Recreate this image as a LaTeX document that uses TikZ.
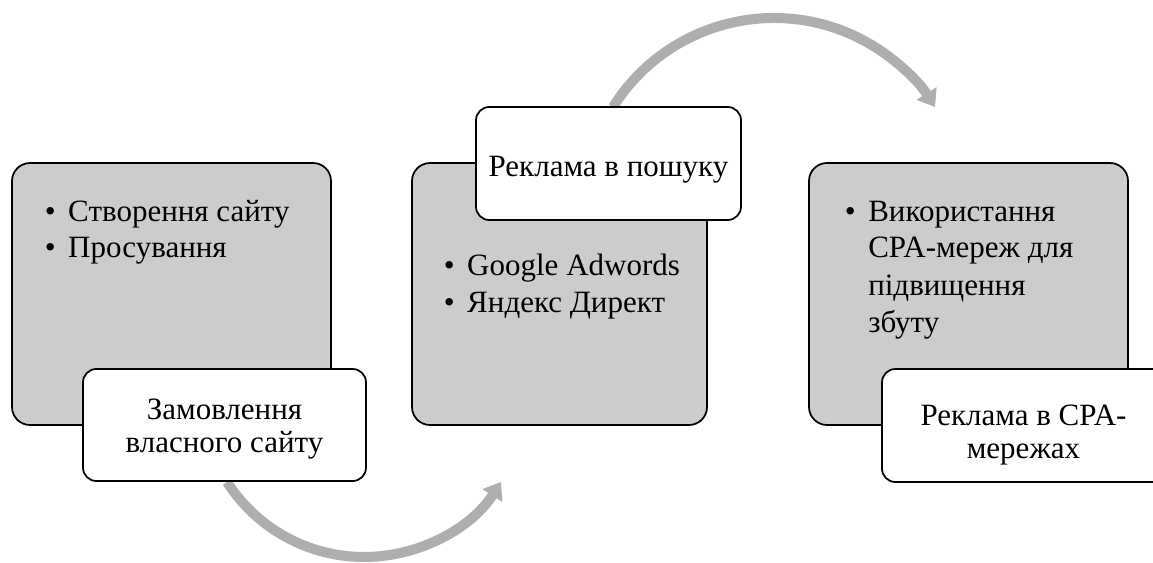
\documentclass[tikz,border=0pt]{standalone}
\usepackage{fontspec}
\setmainfont{Liberation Serif}
\usetikzlibrary{arrows.meta}

% one screen pixel of the layout grid
\newlength\px
\setlength\px{0.75pt}

\definecolor{panelfill}{RGB}{204,204,204}
\definecolor{flowgray}{RGB}{174,174,174}

% text settings
\newcommand\listfont{\fontsize{23.25pt}{27.75pt}\selectfont}
\newcommand\tagfont{\fontsize{23.25pt}{24.75pt}\selectfont}
\newcommand\bulletmark{\makebox[23.4\px][l]{•}}

\begin{document}
\begin{tikzpicture}[x=0.75pt, y=-0.75pt,
  panel/.style={draw=black, line width=1.3pt, fill=panelfill,
                rounded corners=13.5pt, inner sep=0pt},
  tagbox/.style={draw=black, line width=1.3pt, fill=white,
                 rounded corners=10pt, inner sep=0pt},
  flow/.style={draw=flowgray, line width=7.5pt,
               -{Triangle[length=12pt,width=17pt]}},
  bodytext/.style={anchor=base west, inner sep=0pt},
  tagtext/.style={anchor=base, inner sep=0pt}]

\useasboundingbox (0,0) rectangle (1153,563);

% curved flow arrows (drawn first, the boxes cover their tails)
\coordinate (c1) at (364,394.4);
\coordinate (c2) at (774,208.1);
\draw[flow] (c1) ++(147.4:162.6) arc[start angle=147.4, end angle=32.6, radius=162.6];
\draw[flow] (c2) ++(212.1:190.1) arc[start angle=212.1, end angle=327.9, radius=190.1];

% grey panels
\node[panel, minimum width=319\px, minimum height=262\px] (p1) at (171.5,294) {};
\node[panel, minimum width=295\px, minimum height=262\px] (p2) at (559.5,294) {};
\node[panel, minimum width=319\px, minimum height=262\px] (p3) at (968.5,294) {};

% panel contents
\node[bodytext] (p1text) at (44.6,221) {\begin{minipage}[t]{280\px}\listfont
  \bulletmark Створення сайту\par
  \bulletmark Просування\par
\end{minipage}};
\node[bodytext] (p2text) at (443.6,275) {\begin{minipage}[t]{260\px}\listfont
  \bulletmark Google Adwords\par
  \bulletmark Яндекс Директ\par
\end{minipage}};
\node[bodytext] (p3text) at (844.6,221) {\begin{minipage}[t]{280\px}\listfont
  \hangindent=23.4\px \hangafter=1
  \bulletmark Використання\newline CPA-мереж для\newline підвищення\newline збуту\par
\end{minipage}};

% white title boxes
\node[tagbox, minimum width=283\px, minimum height=112\px] (t1) at (224.5,425) {};
\node[tagbox, minimum width=265\px, minimum height=113\px] (t2) at (608.5,163.5) {};
\node[tagbox, minimum width=283\px, minimum height=113\px] (t3) at (1023.5,425.5) {};

\node[tagtext] (t1text) at (224.5,419) {\begin{minipage}[t]{270\px}\centering\tagfont
  Замовлення\\ власного сайту\par\end{minipage}};
\node[tagtext] (t2text) at (608.5,177) {\begin{minipage}[t]{260\px}\centering\tagfont
  Реклама в пошуку\par\end{minipage}};
\node[tagtext] (t3text) at (1023.5,425) {\begin{minipage}[t]{270\px}\centering\tagfont
  Реклама в CPA-\\ мережах\par\end{minipage}};

\end{tikzpicture}
\end{document}
